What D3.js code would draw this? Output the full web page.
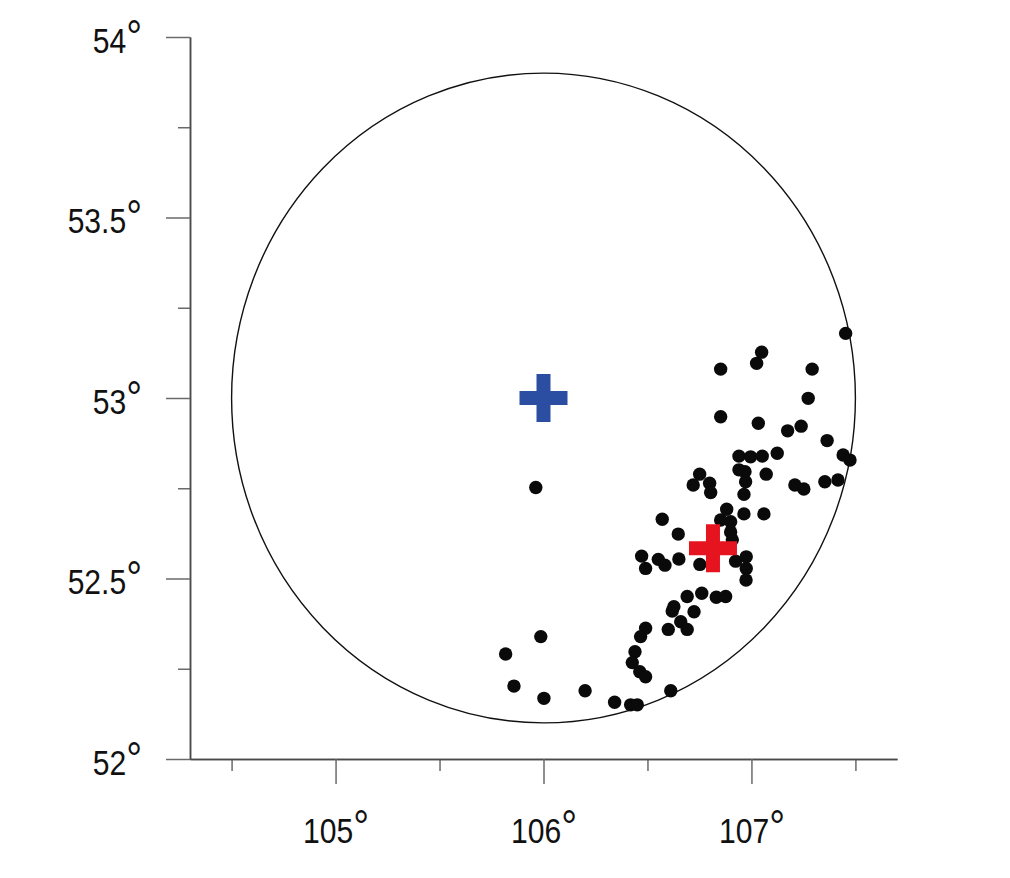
<!DOCTYPE html>
<html>
<head>
<meta charset="utf-8">
<script src="https://cdn.jsdelivr.net/npm/d3@7"></script>
<style>
    body { margin: 0; background: #fff; }
    text { font-family: "Liberation Sans", Arial, sans-serif; }
</style>
</head>
<body>
<svg id="drawing_region"></svg>
<script>
// 点の経度・緯度
const eventLon = [
    107.453, 107.049, 107.025, 106.852, 107.292, 107.273, 106.852, 107.033, 107.174, 107.239,
    107.364, 107.441, 107.474, 106.940, 106.996, 107.052, 107.124, 106.940, 106.969, 106.972,
    107.071, 106.751, 106.720, 106.799, 106.804, 107.209, 107.252, 107.353, 107.416, 105.963,
    106.964, 106.881, 106.964, 107.060, 106.571, 106.852, 106.900, 106.900, 106.648, 106.908,
    106.472, 106.491, 106.552, 106.584, 106.651, 106.752, 106.924, 106.975, 106.975, 106.974,
    106.691, 106.761, 106.831, 106.876, 106.627, 106.619, 106.724, 106.660, 106.691, 106.600,
    106.491, 106.467, 106.440, 106.427, 106.463, 106.491, 105.987, 105.818, 105.858, 106.002,
    106.200, 106.342, 106.419, 106.451, 106.612
];
const eventLat = [
    53.179, 53.127, 53.096, 53.080, 53.080, 52.999, 52.948, 52.930, 52.909, 52.922,
    52.882, 52.842, 52.828, 52.839, 52.837, 52.839, 52.847, 52.801, 52.796, 52.768,
    52.789, 52.789, 52.759, 52.764, 52.738, 52.759, 52.748, 52.768, 52.773, 52.752,
    52.733, 52.692, 52.679, 52.679, 52.664, 52.662, 52.657, 52.629, 52.623, 52.607,
    52.562, 52.528, 52.553, 52.537, 52.554, 52.539, 52.548, 52.560, 52.528, 52.496,
    52.450, 52.459, 52.448, 52.450, 52.422, 52.410, 52.408, 52.380, 52.359, 52.359,
    52.362, 52.339, 52.297, 52.267, 52.242, 52.228, 52.339, 52.291, 52.202, 52.168,
    52.189, 52.157, 52.150, 52.150, 52.189
];

// 中心（青）と震央（赤）
const centerPoint = [106.0, 53.0];
const epicenter = [106.815, 52.584];

// 円の半径（度）
const radiusLon = 1.5;
const radiusLat = 0.9;

// 目盛り
const xMajorTicks = [105, 106, 107];
const xMinorTicks = [104.5, 105.5, 106.5, 107.5];
const yMajorTicks = [52, 52.5, 53, 53.5, 54];
const yMinorTicks = [52.25, 52.75, 53.25, 53.75];

class EventMap {
    constructor(config) {
        this.config = {
            parentElement: config.parentElement,
            width: config.width || 1010,
            height: config.height || 878
        };
        this.init();
    }

    init() {
        const {width, height} = this.config;

        this.svg = d3.select(this.config.parentElement)
            .attr('width', width)
            .attr('height', height);

        this.xscale = d3.scaleLinear().domain([104.3, 107.7]).range([190, 897]);
        this.yscale = d3.scaleLinear().domain([52, 54]).range([759, 37]);
    }

    // 数字 + 大きめの度記号
    styleLabels(g) {
        const sx = 0.86;
        g.selectAll('.tick text').each(function(d) {
            const t = d3.select(this);
            const x0 = +t.attr('x') || 0;
            t.text(null)
                .attr('fill', '#111')
                .style('font-size', '35px')
                .attr('x', x0 / sx)
                .attr('transform', `scale(${sx}, 1)`);
            t.append('tspan').text(d);
            t.append('tspan').text('°').style('font-size', '46px');
        });
    }

    render() {
        const x = this.xscale, y = this.yscale;

        // 軸
        const xMinor = this.svg.append('g')
            .attr('transform', `translate(0, ${y(52)})`)
            .call(d3.axisBottom(x).tickValues(xMinorTicks).tickSize(12).tickSizeOuter(0).tickFormat(''));
        const xMajor = this.svg.append('g')
            .attr('transform', `translate(0, ${y(52)})`)
            .call(d3.axisBottom(x).tickValues(xMajorTicks).tickSize(25).tickSizeOuter(0).tickPadding(34));
        const yMinor = this.svg.append('g')
            .attr('transform', `translate(${x(104.3)}, 0)`)
            .call(d3.axisLeft(y).tickValues(yMinorTicks).tickSize(12).tickSizeOuter(0).tickFormat(''));
        const yMajor = this.svg.append('g')
            .attr('transform', `translate(${x(104.3)}, 0)`)
            .call(d3.axisLeft(y).tickValues(yMajorTicks).tickSize(24).tickSizeOuter(0).tickPadding(24));

        [xMinor, xMajor, yMinor, yMajor].forEach(g => {
            g.select('.domain').attr('stroke', '#4a4a4a').attr('stroke-width', 1.5);
            g.selectAll('.tick line').attr('stroke', '#6a6a6a').attr('stroke-width', 1.5);
        });
        this.styleLabels(xMajor);
        this.styleLabels(yMajor);
        yMajor.selectAll('.tick text').attr('dy', '0.43em');

        // 円
        this.svg.append('ellipse')
            .attr('cx', x(centerPoint[0]))
            .attr('cy', y(centerPoint[1]))
            .attr('rx', x(centerPoint[0] + radiusLon) - x(centerPoint[0]))
            .attr('ry', y(centerPoint[1]) - y(centerPoint[1] + radiusLat))
            .attr('fill', 'none')
            .attr('stroke', '#111')
            .attr('stroke-width', 1.4);

        // 点
        this.svg.append('g').selectAll('circle')
            .data(d3.range(eventLon.length))
            .join('circle')
            .attr('cx', i => x(eventLon[i]))
            .attr('cy', i => y(eventLat[i]))
            .attr('r', 6.7)
            .attr('fill', '#0a0a0a');

        // 十字
        const a = 24, b = 7;
        const crossPath = `M${-b},${-a}H${b}V${-b}H${a}V${b}H${b}V${a}H${-b}V${b}H${-a}V${-b}H${-b}Z`;
        this.svg.append('path')
            .attr('d', crossPath)
            .attr('transform', `translate(${x(centerPoint[0])}, ${y(centerPoint[1])})`)
            .attr('fill', '#2b4ea3');
        this.svg.append('path')
            .attr('d', crossPath)
            .attr('transform', `translate(${x(epicenter[0])}, ${y(epicenter[1])})`)
            .attr('fill', '#e5141e');
    }
}

const eventMap = new EventMap({parentElement: '#drawing_region'});
eventMap.render();
</script>
</body>
</html>
